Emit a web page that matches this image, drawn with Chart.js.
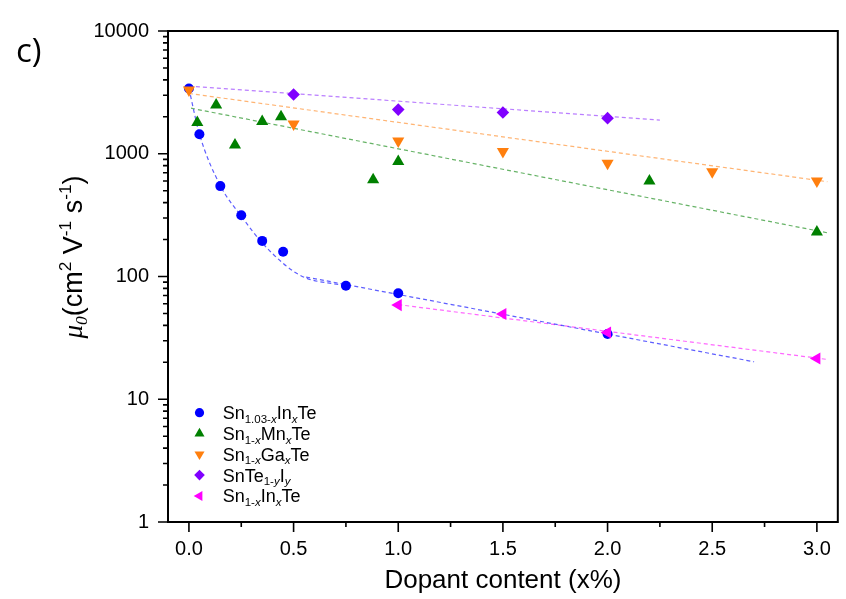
<!DOCTYPE html>
<html>
<head>
<meta charset="utf-8">
<script src="https://cdn.jsdelivr.net/npm/chart.js@4.4.1/dist/chart.umd.min.js"></script>
<style>
  html, body { margin: 0; padding: 0; background: #fff; }
  #wrap { width: 846px; height: 599px; position: relative; }
</style>
</head>
<body>
<div id="wrap"><canvas id="mobilityChart"></canvas></div>
<script>
// tick labels
const xTickVals = [0, 0.5, 1.0, 1.5, 2.0, 2.5, 3.0];
const yTickVals = [1, 10, 100, 1000, 10000];

const sn103InX = [0, 0.05, 0.15, 0.25, 0.35, 0.45, 0.75, 1.0, 2.0];
const sn103InY = [3400, 1440, 545, 315, 195, 159, 84, 73, 34];

const mnX = [0.04, 0.13, 0.22, 0.35, 0.44, 0.88, 1.0, 2.2, 3.0];
const mnY = [1800, 2500, 1180, 1830, 2000, 615, 865, 600, 230];

const gaX = [0, 0.5, 1.0, 1.5, 2.0, 2.5, 3.0];
const gaY = [3300, 1750, 1270, 1045, 835, 715, 600];

const iodX = [0.5, 1.0, 1.5, 2.0];
const iodY = [3040, 2290, 2165, 1950];

const sn1InX = [1.0, 1.5, 2.0, 3.0];
const sn1InY = [58.5, 49.5, 35, 21.5];

// dashed guide lines (read along the dashes)
const blueCurveX = [0, 0.05, 0.15, 0.25, 0.35, 0.45, 0.5, 0.56, 0.62, 0.68, 0.75];
const blueCurveY = [3400, 1450, 550, 310, 188, 128, 110, 97, 91, 88, 84];
const blueLineX = [0.56, 2.7];
const blueLineY = [99, 20.2];
const mnFitX = [0.01, 3.05];
const mnFitY = [2350, 227];
const gaFitX = [0, 3.05];
const gaFitY = [3100, 592];
const iodFitX = [0, 2.25];
const iodFitY = [3560, 1880];
const sn1InFitX = [1.0, 3.05];
const sn1InFitY = [59, 21.1];

const FONT = '"Liberation Sans", Arial, sans-serif';
const SERIF = '"Liberation Serif", "Times New Roman", serif';

const BLUE = '#0000ff', GREEN = '#008000', ORANGE = '#ff7f0e', PURPLE = '#8000ff', MAGENTA = '#ff00ff';

const zip = (xs, ys) => xs.map((v, i) => ({x: v, y: ys[i]}));

// legend rows: [text, kind]  kind: '' normal, 'b' subscript, 'bi' italic subscript
const legendRows = [
  {color: BLUE, style: 'circle', r: 4.6, rot: 0,
   parts: [['Sn', ''], ['1.03-', 'b'], ['x', 'bi'], ['In', ''], ['x', 'bi'], ['Te', '']]},
  {color: GREEN, style: 'triangle', r: 5.8, rot: 0,
   parts: [['Sn', ''], ['1-', 'b'], ['x', 'bi'], ['Mn', ''], ['x', 'bi'], ['Te', '']]},
  {color: ORANGE, style: 'triangle', r: 5.8, rot: 180,
   parts: [['Sn', ''], ['1-', 'b'], ['x', 'bi'], ['Ga', ''], ['x', 'bi'], ['Te', '']]},
  {color: PURPLE, style: 'rectRot', r: 5.3, rot: 0,
   parts: [['SnTe', ''], ['1-', 'b'], ['y', 'bi'], ['I', ''], ['y', 'bi']]},
  {color: MAGENTA, style: 'triangle', r: 5.8, rot: -90,
   parts: [['Sn', ''], ['1-', 'b'], ['x', 'bi'], ['In', ''], ['x', 'bi'], ['Te', '']]}
];

const yTitleParts = [['\u03bc', 'mi'], ['0', 'bmi'], ['(cm', ''], ['2', 'p'], [' V', ''], ['-1', 'p'], [' s', ''], ['-1', 'p'], [')', '']];

function drawRich(ctx, parts, x, y, size, align) {
  const items = parts.map(([t, k]) => {
    const small = k.includes('b') || k.includes('p');
    const sz = small ? size * 0.64 : size;
    const fam = k.includes('m') ? SERIF : FONT;
    const font = (k.includes('i') ? 'italic ' : '') + sz.toFixed(1) + 'px ' + fam;
    ctx.font = font;
    const dy = k.includes('b') ? size * 0.2 : (k.includes('p') ? -size * 0.4 : 0);
    return {t, font, dy, w: ctx.measureText(t).width};
  });
  const total = items.reduce((s, it) => s + it.w, 0);
  let cx = align === 'center' ? x - total / 2 : x;
  ctx.textAlign = 'left';
  ctx.textBaseline = 'alphabetic';
  items.forEach(it => {
    ctx.font = it.font;
    ctx.fillText(it.t, cx, y + it.dy);
    cx += it.w;
  });
}

const decor = {
  id: 'decor',
  afterDraw(chart) {
    const {ctx, chartArea: a, scales: {x, y}} = chart;
    ctx.save();
    // frame
    ctx.strokeStyle = '#000';
    ctx.lineWidth = 2;
    ctx.strokeRect(a.left, a.top, a.right - a.left, a.bottom - a.top);
    // tick marks, outward
    ctx.lineWidth = 1.6;
    ctx.beginPath();
    for (let i = 0; i <= 12; i++) {
      const v = i * 0.25;
      const px = x.getPixelForValue(v);
      const len = i % 2 === 0 ? 10 : 5;
      ctx.moveTo(px, a.bottom);
      ctx.lineTo(px, a.bottom + len);
    }
    for (let d = 1; d <= 10000; d *= 10) {
      for (let k = 1; k <= 9; k++) {
        const v = d * k;
        if (v > 10000) break;
        const py = y.getPixelForValue(v);
        ctx.moveTo(a.left, py);
        ctx.lineTo(a.left - (k === 1 ? 10 : 5), py);
      }
    }
    ctx.stroke();

    ctx.fillStyle = '#000';
    // x title
    ctx.font = '26px ' + FONT;
    ctx.textAlign = 'center';
    ctx.textBaseline = 'alphabetic';
    ctx.fillText('Dopant content (x%)', (a.left + a.right) / 2, 588);
    // y title
    ctx.save();
    ctx.translate(82, 257);
    ctx.rotate(-Math.PI / 2);
    drawRich(ctx, yTitleParts, 0, 0, 27, 'center');
    ctx.restore();
    // panel label
    ctx.font = '33px "Open Sans", ' + FONT;
    ctx.textAlign = 'left';
    ctx.fillText('c)', 16, 62);
    // legend
    legendRows.forEach((row, i) => {
      const ry = 412.7 + i * 20.8;
      ctx.fillStyle = row.color;
      Chart.helpers.drawPoint(ctx, {pointStyle: row.style, radius: row.r, rotation: row.rot, borderWidth: 0}, 199.5, ry);
      ctx.fillStyle = '#000';
      drawRich(ctx, row.parts, 222.7, ry + 6.4, 18, 'left');
    });
    ctx.restore();
  }
};

function pointSet(data, color, style, r, rot, order) {
  return {data, pointStyle: style, pointRadius: r, pointHoverRadius: r, rotation: rot,
          backgroundColor: color, borderColor: color, borderWidth: 0, showLine: false, order};
}
function fitSet(data, color, smooth) {
  return {data, showLine: true, pointRadius: 0, borderColor: color, borderWidth: 1.2,
          borderDash: [4, 3], fill: false, order: 10,
          cubicInterpolationMode: smooth ? 'monotone' : 'default'};
}

new Chart(document.getElementById('mobilityChart'), {
  type: 'scatter',
  data: {
    datasets: [
      fitSet(zip(blueCurveX, blueCurveY), 'rgba(40,40,255,0.75)', true),
      fitSet(zip(blueLineX, blueLineY), 'rgba(40,40,255,0.75)', false),
      fitSet(zip(mnFitX, mnFitY), 'rgba(0,128,0,0.6)', false),
      fitSet(zip(gaFitX, gaFitY), 'rgba(255,140,40,0.65)', false),
      fitSet(zip(iodFitX, iodFitY), 'rgba(140,40,255,0.6)', false),
      fitSet(zip(sn1InFitX, sn1InFitY), 'rgba(255,40,255,0.7)', false),
      pointSet(zip(sn103InX, sn103InY), BLUE, 'circle', 5, 0, 6),
      pointSet(zip(mnX, mnY), GREEN, 'triangle', 7, 0, 5),
      pointSet(zip(iodX, iodY), PURPLE, 'rectRot', 6.3, 0, 4),
      pointSet(zip(sn1InX, sn1InY), MAGENTA, 'triangle', 7, -90, 3),
      pointSet(zip(gaX, gaY), ORANGE, 'triangle', 7, 180, 2)
    ]
  },
  options: {
    responsive: true,
    maintainAspectRatio: false,
    animation: false,
    layout: {padding: {left: 0, right: 1, top: 24, bottom: 0}},
    plugins: {legend: {display: false}, tooltip: {enabled: false}},
    scales: {
      x: {
        type: 'linear', min: -0.1, max: 3.1,
        grid: {display: false, drawTicks: false},
        border: {display: false},
        afterBuildTicks: s => { s.ticks = xTickVals.map(v => ({value: v})); },
        afterFit: s => { s.height = 77; },
        ticks: {color: '#000', font: {family: FONT, size: 20}, padding: 15,
                callback: v => Number(v).toFixed(1)}
      },
      y: {
        type: 'logarithmic', min: 1, max: 10000,
        grid: {display: false, drawTicks: false},
        border: {display: false},
        afterBuildTicks: s => { s.ticks = yTickVals.map(v => ({value: v})); },
        afterFit: s => { s.width = 168; },
        ticks: {color: '#000', font: {family: FONT, size: 20}, padding: 19,
                callback: v => String(v)}
      }
    }
  },
  plugins: [decor]
});
</script>
</body>
</html>
